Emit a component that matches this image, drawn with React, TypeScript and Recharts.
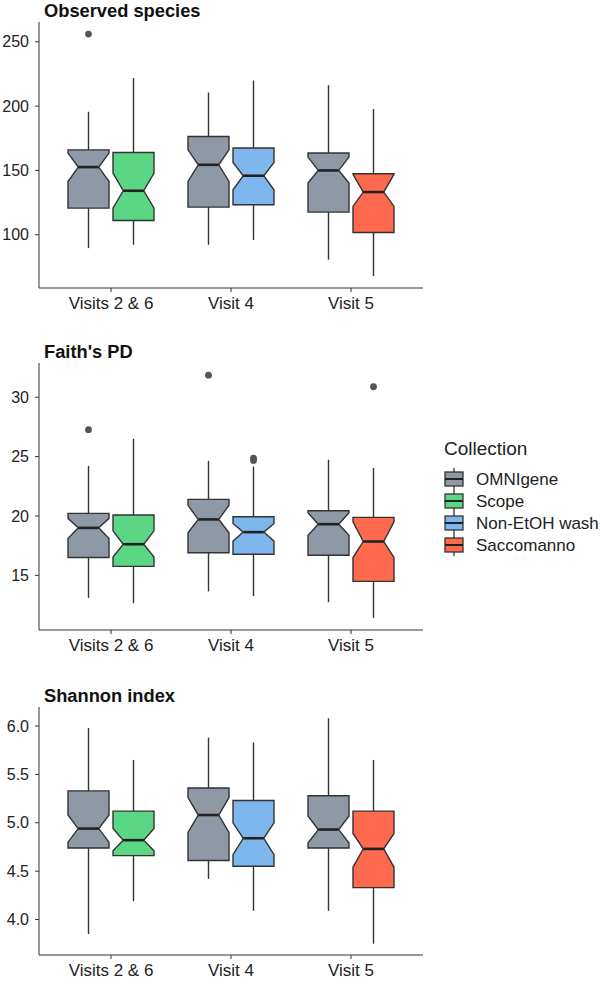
import { ComposedChart, Bar, XAxis, YAxis } from 'recharts'

const categories = ['Visits 2 & 6', 'Visit 4', 'Visit 5']
const collections = ['OMNIgene', 'Scope', 'Non-EtOH wash', 'Saccomanno']
const pairedCollection = ['Scope', 'Non-EtOH wash', 'Saccomanno']

const COLORS: Record<string, string> = {
  OMNIgene: '#8E99A5',
  Scope: '#5BD685',
  'Non-EtOH wash': '#7EB7EE',
  Saccomanno: '#FF6A4F',
}

// each box: [lower whisker, Q1, notch low, median, notch high, Q3, upper whisker]
const observedOmni = [
  [89.6, 120.7, 141.4, 152.6, 163.5, 166, 195.6],
  [92.2, 121.5, 141.4, 154.4, 166, 176.4, 210.6],
  [80.6, 117.6, 140.2, 150, 160.4, 163.5, 216.3],
]
const observedOther = [
  [92.2, 111.1, 120.7, 134.2, 147.9, 164, 221.8],
  [96, 123.3, 135, 145.9, 156.2, 167.4, 219.9],
  [68, 101.8, 122, 133.2, 147, 147.4, 197.7],
]
const observedOmniOut = [[256], [], []]
const observedOtherOut = [[], [], []]
const observedTicks = [100, 150, 200, 250]

const faithOmni = [
  [13.1, 16.5, 18.1, 19.0, 19.8, 20.22, 24.22],
  [13.65, 16.9, 18.58, 19.71, 20.9, 21.4, 24.64],
  [12.74, 16.69, 18.38, 19.31, 20.27, 20.44, 24.73],
]
const faithOther = [
  [12.66, 15.76, 16.55, 17.62, 18.75, 20.08, 26.5],
  [13.25, 16.78, 17.88, 18.64, 19.37, 19.94, 24.16],
  [11.42, 14.49, 16.5, 17.85, 19.5, 19.88, 24.03],
]
const faithOmniOut = [[27.27], [31.86], []]
const faithOtherOut = [[], [24.87, 24.67], [30.88]]
const faithTicks = [15, 20, 25, 30]

const shannonOmni = [
  [3.85, 4.74, 4.8, 4.94, 5.08, 5.33, 5.98],
  [4.42, 4.61, 4.9, 5.08, 5.26, 5.36, 5.88],
  [4.09, 4.74, 4.79, 4.93, 5.07, 5.28, 6.08],
]
const shannonOther = [
  [4.19, 4.66, 4.71, 4.82, 4.94, 5.12, 5.65],
  [4.09, 4.55, 4.67, 4.84, 5.0, 5.23, 5.83],
  [3.75, 4.33, 4.54, 4.73, 4.89, 5.12, 5.65],
]
const shannonOmniOut = [[], [], []]
const shannonOtherOut = [[], [], []]
const shannonTicks = [4.0, 4.5, 5.0, 5.5, 6.0]

const FONT = '"Liberation Sans", Arial, sans-serif'
const INK = '#222'
const LINE = '#333'

function buildRows(omni: number[][], other: number[][], omniOut: number[][], otherOut: number[][]) {
  return categories.map((cat, i) => ({
    cat,
    omni: [omni[i][0], omni[i][6]],
    other: [other[i][0], other[i][6]],
    omniStats: omni[i],
    otherStats: other[i],
    omniOut: omniOut[i],
    otherOut: otherOut[i],
    otherName: pairedCollection[i],
  }))
}

// padded domain like ggplot's 5% expansion
function expand(vals: number[]): [number, number] {
  const lo = Math.min(...vals)
  const hi = Math.max(...vals)
  const pad = (hi - lo) * 0.05
  return [lo - pad, hi + pad]
}

function BoxShape(props: any) {
  const { x, y, width, height, stats, outliers, color } = props
  const lo = stats[0]
  const hi = stats[6]
  const top = Math.min(y, y + height)
  const k = Math.abs(height) / (hi - lo)
  const Y = (v: number) => top + (hi - v) * k
  const [, q1, nl, med, nh, q3] = stats
  const xl = x
  const xr = x + width
  const cx = x + width / 2
  const inset = width * 0.25
  const pts = [
    [xl, Y(q3)], [xr, Y(q3)], [xr, Y(nh)], [xr - inset, Y(med)], [xr, Y(nl)],
    [xr, Y(q1)], [xl, Y(q1)], [xl, Y(nl)], [xl + inset, Y(med)], [xl, Y(nh)],
  ].map(p => p.join(',')).join(' ')
  return (
    <g>
      <line x1={cx} x2={cx} y1={Y(hi)} y2={Y(lo)} stroke={LINE} strokeWidth={1.4} />
      <polygon points={pts} fill={color} stroke={LINE} strokeWidth={1.4} />
      <line x1={xl + inset} x2={xr - inset} y1={Y(med)} y2={Y(med)} stroke={INK} strokeWidth={2.6} />
      {outliers.map((v: number, i: number) => (
        <circle key={i} cx={cx} cy={Y(v)} r={3.4} fill="#555" />
      ))}
    </g>
  )
}

interface PanelProps {
  title: string
  rows: ReturnType<typeof buildRows>
  domain: [number, number]
  ticks: number[]
  fmt?: (v: number) => string
  top: number
  height: number
}

function BoxPanel({ title, rows, domain, ticks, fmt, top, height }: PanelProps) {
  return (
    <div style={{ position: 'absolute', left: 0, top, width: 440, height }}>
      <ComposedChart
        width={440}
        height={height}
        data={rows}
        margin={{ top: 22, right: 17, bottom: 20, left: 0 }}
        barSize={41}
        barGap={4}
      >
        <XAxis
          dataKey="cat"
          padding={{ left: 12, right: 12 }}
          height={22}
          tickSize={4}
          tickMargin={5}
          stroke={LINE}
          tick={{ fill: INK, fontSize: 17, fontFamily: FONT }}
        />
        <YAxis
          type="number"
          domain={domain}
          ticks={ticks}
          allowDataOverflow
          width={39}
          tickSize={4}
          tickMargin={6}
          stroke={LINE}
          tickFormatter={fmt}
          tick={{ fill: INK, fontSize: 16, fontFamily: FONT }}
        />
        <Bar
          dataKey="omni"
          isAnimationActive={false}
          shape={(p: any) => (
            <BoxShape {...p} stats={p.payload.omniStats} outliers={p.payload.omniOut} color={COLORS.OMNIgene} />
          )}
        />
        <Bar
          dataKey="other"
          isAnimationActive={false}
          shape={(p: any) => (
            <BoxShape {...p} stats={p.payload.otherStats} outliers={p.payload.otherOut} color={COLORS[p.payload.otherName]} />
          )}
        />
      </ComposedChart>
      <svg width={300} height={26} style={{ position: 'absolute', left: 0, top: 0 }}>
        <text x={44} y={17} fontFamily={FONT} fontWeight="bold" fontSize={18.3} fill="#111">{title}</text>
      </svg>
    </div>
  )
}

function Legend() {
  return (
    <svg width={170} height={140} style={{ position: 'absolute', left: 430, top: 430 }}>
      <text x={14} y={25} fontFamily={FONT} fontSize={19} fill={INK}>Collection</text>
      {collections.map((name, i) => {
        const cy = 49 + i * 22
        return (
          <g key={name}>
            <line x1={24} x2={24} y1={cy - 11} y2={cy + 11} stroke={LINE} strokeWidth={1.3} />
            <rect x={15} y={cy - 7} width={18} height={14} fill={COLORS[name]} stroke={LINE} strokeWidth={1.3} />
            <line x1={15} x2={33} y1={cy} y2={cy} stroke={INK} strokeWidth={2} />
            <text x={46} y={cy + 6} fontFamily={FONT} fontSize={17} fill={INK}>{name}</text>
          </g>
        )
      })}
    </svg>
  )
}

const observedRows = buildRows(observedOmni, observedOther, observedOmniOut, observedOtherOut)
const faithRows = buildRows(faithOmni, faithOther, faithOmniOut, faithOtherOut)
const shannonRows = buildRows(shannonOmni, shannonOther, shannonOmniOut, shannonOtherOut)

const allVals = (a: number[][], b: number[][], c: number[][], d: number[][]) =>
  [...a.flat(), ...b.flat(), ...c.flat(), ...d.flat()]

export default function App() {
  return (
    <div style={{ position: 'absolute', left: 0, top: 0, width: 600, height: 997, overflow: 'hidden', background: '#fff' }}>
      <BoxPanel
        title="Observed species"
        rows={observedRows}
        domain={expand(allVals(observedOmni, observedOther, observedOmniOut, observedOtherOut))}
        ticks={observedTicks}
        top={0}
        height={330}
      />
      <BoxPanel
        title="Faith's PD"
        rows={faithRows}
        domain={expand(allVals(faithOmni, faithOther, faithOmniOut, faithOtherOut))}
        ticks={faithTicks}
        top={341}
        height={331}
      />
      <BoxPanel
        title="Shannon index"
        rows={shannonRows}
        domain={expand(allVals(shannonOmni, shannonOther, shannonOmniOut, shannonOtherOut))}
        ticks={shannonTicks}
        fmt={(v: number) => v.toFixed(1)}
        top={685}
        height={312}
      />
      <Legend />
    </div>
  )
}
